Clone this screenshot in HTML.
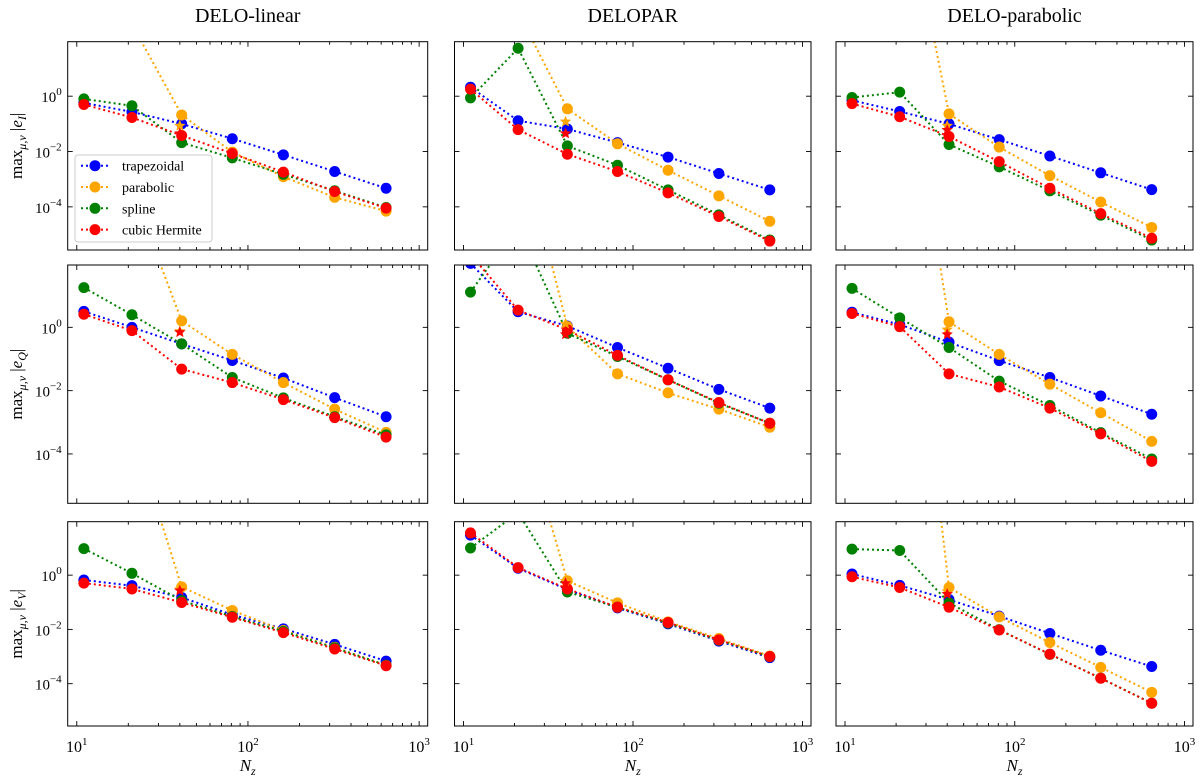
<!DOCTYPE html>
<html>
<head>
<meta charset="utf-8">
<style>
html,body{margin:0;padding:0;background:#fff;}
svg{display:block;font-family:"Liberation Serif","DejaVu Serif",serif;}
</style>
</head>
<body>
<svg id="fig" width="1200" height="777" viewBox="0 0 1200 777" xmlns="http://www.w3.org/2000/svg"></svg>
<script>
// ---- data ----
const nzValues = [11, 21, 41, 81, 161, 321, 641];
const colTitles = ["DELO-linear", "DELOPAR", "DELO-parabolic"];
const rowLabels = ["I", "Q", "V"];
const seriesNames = ["trapezoidal", "parabolic", "spline", "cubic Hermite"];
const seriesColors = ["#0000ff", "#ffa500", "#008000", "#ff0000"];
const xTickLabels = ["1", "2", "3"];
const yTickExps = ["0", "\u22122", "\u22124"];

// row I
const iLinTrap = [0.57,0.27,0.1,0.029,0.0076,0.0019,4.7e-4];
const iLinPara = [1e4,400,0.21,0.0095,1.23e-3,2.2e-4,7e-5];
const iLinSpl  = [0.8,0.45,0.021,0.0059,0.0015,3.8e-4,9.5e-5];
const iLinHerm = [0.5,0.17,0.038,0.0085,0.0018,3.6e-4,9e-5];
const iParTrap = [2.1,0.13,0.065,0.021,0.0063,0.0016,4.1e-4];
const iParPara = [1e5,1100,0.35,0.019,0.0021,2.5e-4,3e-5];
const iParSpl  = [0.87,54,0.016,0.0032,4.1e-4,5.1e-5,6.3e-6];
const iParHerm = [1.8,0.062,0.008,0.0019,3.2e-4,4.5e-5,5.8e-6];
const iPbTrap  = [0.71,0.28,0.1,0.027,0.0069,0.0017,4.2e-4];
const iPbPara  = [1e10,2e8,0.23,0.0145,1.34e-3,1.5e-4,1.8e-5];
const iPbSpl   = [0.9,1.4,0.018,0.0028,3.8e-4,5e-5,6.3e-6];
const iPbHerm  = [0.54,0.18,0.035,0.0043,4.7e-4,5.7e-5,7.3e-6];
// row Q
const qLinTrap = [3.2,1.0,0.3,0.09,0.025,0.006,0.0015];
const qLinPara = [1e7,2.3e4,1.6,0.14,0.018,0.0026,4.8e-4];
const qLinSpl  = [18,2.5,0.3,0.026,0.0059,1.5e-3,4e-4];
const qLinHerm = [2.6,0.79,0.048,0.018,0.0052,0.0014,3.4e-4];
const qParTrap = [105,3.1,1.1,0.23,0.051,0.011,0.0028];
const qParPara = [1e9,1.6e6,1.05,0.034,0.0085,0.0026,7e-4];
const qParSpl  = [13,1600,0.65,0.12,0.022,0.004,9.3e-4];
const qParHerm = [200,3.5,0.83,0.13,0.022,0.0042,9.3e-4];
const qPbTrap  = [3.0,1.23,0.34,0.089,0.026,0.0068,0.0018];
const qPbPara  = [1e12,1e10,1.5,0.14,0.016,0.002,2.5e-4];
const qPbSpl   = [17,2.0,0.23,0.02,0.0034,4.7e-4,6.9e-5];
const qPbHerm  = [2.75,1.05,0.034,0.013,0.0028,4.3e-4,5.8e-5];
// row V
const vLinTrap = [0.66,0.41,0.15,0.035,0.0105,0.0028,6.8e-4];
const vLinPara = [1e8,2.5e5,0.37,0.05,0.0091,0.0022,4.8e-4];
const vLinSpl  = [9.5,1.17,0.115,0.03,0.0085,0.0021,4.8e-4];
const vLinHerm = [0.51,0.31,0.098,0.028,0.0076,0.0019,4.6e-4];
const vParTrap = [30,1.8,0.29,0.062,0.016,0.0037,9.1e-4];
const vParPara = [1e8,1e6,0.62,0.095,0.019,0.0046,1.05e-3];
const vParSpl  = [10,200,0.24,0.066,0.017,0.004,9.8e-4];
const vParHerm = [36,1.9,0.31,0.066,0.018,0.0041,1.0e-3];
const vPbTrap  = [1.1,0.42,0.126,0.031,0.0071,0.0017,4.3e-4];
const vPbPara  = [1e16,1e15,0.35,0.029,0.0033,4e-4,4.8e-5];
const vPbSpl   = [9.1,8.1,0.095,0.0098,0.0012,1.6e-4,1.9e-5];
const vPbHerm  = [0.87,0.35,0.066,0.0095,0.00123,1.58e-4,1.9e-5];

// stars at Nz=41 (parabolic, hermite)
const starParaVals = [[0.085,0.12,0.085],[0.75,1.3,0.85],[0.3,0.6,0.25]];
const starHermVals = [[0.045,0.045,0.06],[0.7,0.6,0.6],[0.27,0.5,0.2]];

const panels = [
  [[iLinTrap,iLinPara,iLinSpl,iLinHerm],[iParTrap,iParPara,iParSpl,iParHerm],[iPbTrap,iPbPara,iPbSpl,iPbHerm]],
  [[qLinTrap,qLinPara,qLinSpl,qLinHerm],[qParTrap,qParPara,qParSpl,qParHerm],[qPbTrap,qPbPara,qPbSpl,qPbHerm]],
  [[vLinTrap,vLinPara,vLinSpl,vLinHerm],[vParTrap,vParPara,vParSpl,vParHerm],[vPbTrap,vPbPara,vPbSpl,vPbHerm]]
];

// ---- layout ----
const cols = [{x0:67.7,x1:427.7},{x0:454.5,x1:811},{x0:836,x1:1193}];
const rows = [{y0:41.7,y1:250},{y0:265,y1:503.3},{y0:521.7,y1:726}];
const XL = [0.947, 3.05], YL = [-5.56, 1.97];
const NS = "http://www.w3.org/2000/svg";
const svg = document.getElementById("fig");
function mk(tag, attrs, parent){
  const e = document.createElementNS(NS, tag);
  for (const k in attrs) e.setAttribute(k, attrs[k]);
  (parent||svg).appendChild(e);
  return e;
}
function xs(c, v){ const C=cols[c]; return C.x0 + (Math.log10(v)-XL[0])/(XL[1]-XL[0])*(C.x1-C.x0); }
function ys(r, v){ const R=rows[r]; return R.y0 + (YL[1]-Math.log10(v))/(YL[1]-YL[0])*(R.y1-R.y0); }
function starPts(cx, cy, R){
  let p=[];
  for(let i=0;i<10;i++){const a=-Math.PI/2+i*Math.PI/5; const rr=i%2?R*0.45:R; p.push((cx+rr*Math.cos(a)).toFixed(1)+","+(cy+rr*Math.sin(a)).toFixed(1));}
  return p.join(" ");
}

for (let c=0;c<3;c++){
  const t = mk("text",{x:(cols[c].x0+cols[c].x1)/2,y:22,"text-anchor":"middle","font-size":"20"});
  t.textContent = colTitles[c];
  
  
}

const defs = mk("defs",{});
for (let r=0;r<3;r++){
  for (let c=0;c<3;c++){
    const C=cols[c], R=rows[r];
    const g = mk("g",{});
    
    
    const cp = mk("clipPath",{id:"cp"+r+c},defs);
    mk("rect",{x:C.x0,y:R.y0,width:C.x1-C.x0,height:R.y1-R.y0},cp);
    for (let d=1; d<=3; d++){
      for (let m=1; m<=9; m++){
        const v = m*Math.pow(10,d);
        if (Math.log10(v) > XL[1]) break;
        const x = xs(c, v); const len = m===1?5:3;
        mk("line",{x1:x,x2:x,y1:R.y1,y2:R.y1-len,stroke:"#000","stroke-width":0.9},g);
        mk("line",{x1:x,x2:x,y1:R.y0,y2:R.y0+len,stroke:"#000","stroke-width":0.9},g);
        if (m===1 && r===2){
          const t = mk("text",{x:x,y:752,"text-anchor":"middle","font-size":"16"},g);
          t.textContent = "10";
          const s = mk("tspan",{dy:-7,"font-size":"11"},t); s.textContent = xTickLabels[d-1];
          
          
        }
      }
    }
    [0,-2,-4].forEach((e,i)=>{
      const y = ys(r, Math.pow(10,e));
      mk("line",{x1:C.x0,x2:C.x0+5,y1:y,y2:y,stroke:"#000","stroke-width":0.9},g);
      mk("line",{x1:C.x1,x2:C.x1-5,y1:y,y2:y,stroke:"#000","stroke-width":0.9},g);
      if (c===0){
        const t = mk("text",{x:C.x0-6,y:y+6,"text-anchor":"end","font-size":"15"},g);
        t.textContent = "10";
        const s = mk("tspan",{dy:-7,"font-size":"11"},t); s.textContent = yTickExps[i];
        
        
      }
    });
    const pg = mk("g",{"clip-path":"url(#cp"+r+c+")"},g);
    for (let s=0;s<4;s++){
      const vals = panels[r][c][s];
      const pts = nzValues.map((n,i)=>xs(c,n).toFixed(1)+","+ys(r,vals[i]).toFixed(1)).join(" ");
      const pl = mk("polyline",{points:pts,fill:"none",stroke:seriesColors[s],"stroke-width":2,"stroke-dasharray":"2 3"},pg);
      
      
      nzValues.forEach((n,i)=>{
        const m = mk("circle",{cx:xs(c,n),cy:ys(r,vals[i]),r:5.5,fill:seriesColors[s]},pg);
        
        
      });
    }
    const sp = mk("polygon",{points:starPts(xs(c,40),ys(r,starParaVals[r][c]),6),fill:"#ffa500"},pg);
    
    
    const sh = mk("polygon",{points:starPts(xs(c,40),ys(r,starHermVals[r][c]),6),fill:"#ff0000"},pg);
    
    
    const fr = mk("rect",{x:C.x0,y:R.y0,width:C.x1-C.x0,height:R.y1-R.y0,fill:"none",stroke:"#000","stroke-width":1},g);
    
    
  }
  const cy = (rows[r].y0+rows[r].y1)/2;
  const yl = mk("text",{x:0,y:0,transform:"translate(22,"+cy+") rotate(-90)","text-anchor":"middle","font-size":"17"});
  yl.textContent = "max";
  const sub = mk("tspan",{dy:4,"font-size":"12","font-style":"italic"},yl); sub.textContent = "\u03bc,\u03bd";
  const bar = mk("tspan",{dy:-4},yl); bar.textContent = " |";
  const ee = mk("tspan",{"font-style":"italic"},yl); ee.textContent = "e";
  const es = mk("tspan",{dy:4,"font-size":"12","font-style":"italic"},yl); es.textContent = rowLabels[r];
  const b2 = mk("tspan",{dy:-4},yl); b2.textContent = "|";
  
  
}
for (let c=0;c<3;c++){
  const t = mk("text",{x:(cols[c].x0+cols[c].x1)/2,y:771,"text-anchor":"middle","font-size":"17","font-style":"italic"});
  t.textContent = "N";
  const s = mk("tspan",{dy:4,"font-size":"12"},t); s.textContent = "z";
  
  
}
const lg = mk("g",{});


mk("rect",{x:75,y:155,width:137,height:87,rx:3,fill:"#fff","fill-opacity":0.85,stroke:"#ccc","stroke-width":1},lg);
for (let s=0;s<4;s++){
  const y = 165.7 + s*21.3;
  const e = mk("g",{},lg);
  
  
  mk("line",{x1:81,x2:108,y1:y,y2:y,stroke:seriesColors[s],"stroke-width":2,"stroke-dasharray":"2 3"},e);
  mk("circle",{cx:95,cy:y,r:5.5,fill:seriesColors[s]},e);
  const t = mk("text",{x:122,y:y+5,"font-size":"14"},e);
  t.textContent = seriesNames[s];
}
</script>
</body>
</html>
